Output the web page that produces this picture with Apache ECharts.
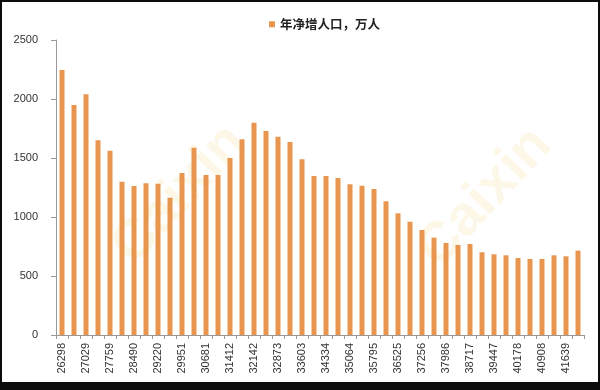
<!DOCTYPE html>
<html><head><meta charset="utf-8">
<script src="https://cdn.jsdelivr.net/npm/echarts@6/dist/echarts.min.js"></script>
<style>
html,body{margin:0;padding:0;background:#0c0c0c;width:600px;height:390px;overflow:hidden}
#c{position:absolute;left:2px;top:2px;width:596px;height:380px;background:#fff}
</style></head><body>
<div id="c"></div>
<script>
var categories = ['26298','26664','27029','27394','27759','28125','28490','28855','29220','29586','29951','30316','30681','31047','31412','31777','32142','32508','32873','33238','33603','33969','34334','34699','35064','35430','35795','36160','36525','36891','37256','37621','37986','38352','38717','39082','39447','39813','40178','40543','40908','41274','41639','42004'];
var netIncrease = [2246,1949,2040,1650,1562,1299,1263,1285,1282,1164,1373,1587,1356,1356,1500,1658,1799,1729,1681,1636,1489,1347,1347,1331,1277,1265,1237,1133,1031,960,890,825,780,763,771,701,684,675,653,644,644,675,667,715];
var seriesName = '年净增人口，万人';
var yTicks = [0, 500, 1000, 1500, 2000, 2500];

var chart = echarts.init(document.getElementById('c'));
chart.setOption({
  animation: false,
  backgroundColor: '#fff',
  textStyle: {fontFamily: 'Liberation Sans, Arial, sans-serif'},
  graphic: [
    {type: 'text', z: 0, left: 100, top: 112, rotation: 0.82,
     style: {text: 'Caixin', font: 'bold 56px Liberation Sans', fill: 'rgba(240,200,90,0.14)'}},
    {type: 'text', z: 0, left: 405, top: 115, rotation: 0.82,
     style: {text: 'Caixin', font: 'bold 56px Liberation Sans', fill: 'rgba(240,200,90,0.14)'}}
  ],
  legend: {
    top: 11, left: 262,
    itemWidth: 6, itemHeight: 6, itemGap: 3,
    icon: 'rect',
    textStyle: {fontSize: 12.5, fontWeight: 'bold', color: '#222', fontFamily: 'Noto Sans CJK SC'},
    data: [seriesName]
  },
  grid: {left: 54, right: 14, top: 38, bottom: 47},
  xAxis: {
    type: 'category',
    data: categories,
    boundaryGap: true,
    axisLine: {lineStyle: {color: '#999'}},
    axisTick: {show: true, alignWithLabel: false, interval: 0, length: 4, lineStyle: {color: '#999'}},
    axisLabel: {interval: 1, rotate: 90, fontSize: 11, color: '#333', margin: 8}
  },
  yAxis: {
    type: 'value',
    min: yTicks[0], max: yTicks[yTicks.length - 1], interval: 500,
    axisLine: {show: true, lineStyle: {color: '#999'}},
    axisTick: {show: true, length: 5, lineStyle: {color: '#999'}},
    splitLine: {show: false},
    axisLabel: {fontSize: 11, color: '#333', margin: 18, formatter: function (v) { return String(v); }}
  },
  series: [{
    name: seriesName,
    type: 'bar',
    data: netIncrease,
    barWidth: 5,
    itemStyle: {color: '#E8964F'}
  }]
});
</script>
</body></html>
